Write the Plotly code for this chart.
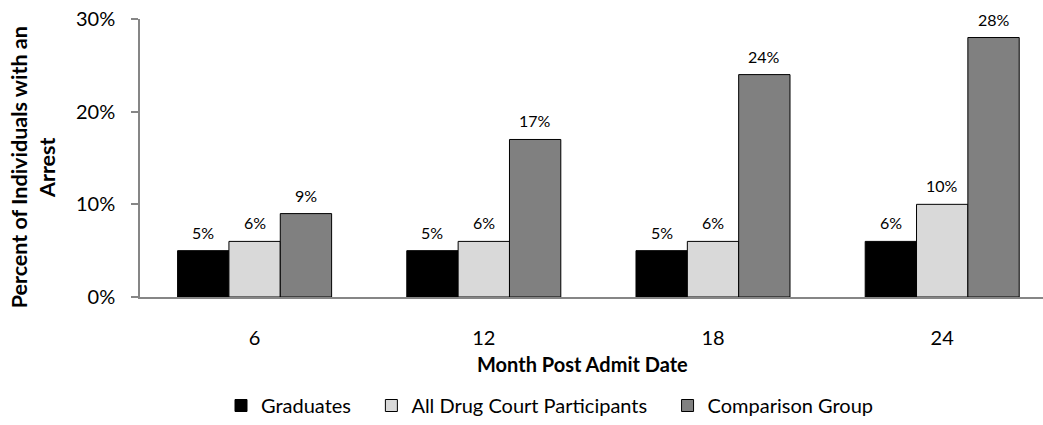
import plotly.graph_objects as go

months = ["6", "12", "18", "24"]
series_names = ["Graduates", "All Drug Court Participants", "Comparison Group"]
graduates = [0.05, 0.05, 0.05, 0.06]
all_participants = [0.06, 0.06, 0.06, 0.10]
comparison = [0.09, 0.17, 0.24, 0.28]
y_ticks = [0, 0.1, 0.2, 0.3]
y_tick_labels = ["0%", "10%", "20%", "30%"]

colors = ["#000000", "#d9d9d9", "#808080"]
FONT = "Lato"
BARGAP = 0.328

W, H = 1043, 425
ML, MR, MT, MB = 140, 0, 19, 425 - 302
plot_w = W - ML - MR
plot_h = H - MT - MB


def px_x(x):
    return (x - ML) / plot_w


def px_y(y):
    return 1 - (y - MT) / plot_h


series = [graduates, all_participants, comparison]
fig = go.Figure()
for name, vals, col in zip(series_names, series, colors):
    fig.add_trace(go.Bar(
        name=name + "\u00a0\u00a0\u00a0", x=months, y=vals,
        marker=dict(color=col, line=dict(color="#000000", width=1)),
        textposition="none",
    ))

# data labels above each bar, placed on the axes' own coordinates
n = len(series)
bw = (1 - BARGAP) / n
annotations = []
for j, vals in enumerate(series):
    for i, v in enumerate(vals):
        annotations.append(dict(
            x=i + (j - (n - 1) / 2) * bw, y=v, xref="x", yref="y",
            text=f"{round(v*100)}%", showarrow=False,
            xanchor="center", yanchor="bottom", yshift=7,
            font=dict(family=FONT, size=16, color="#000000")))

unit_px = 229.2
right_units = plot_w / unit_px - 0.5

annotations += [
    dict(text="<b>Percent of Individuals with an<br>Arrest</b>", textangle=-90,
         xref="paper", yref="paper",
         x=px_x(33), y=px_y(170),
         xanchor="center", yanchor="middle", showarrow=False,
         font=dict(family=FONT, size=21.5), align="center"),
    dict(text="<b>Month Post Admit Date</b>",
         xref="paper", yref="paper",
         x=px_x(582), y=px_y(370),
         xanchor="center", yanchor="middle", showarrow=False,
         font=dict(family=FONT, size=20)),
]

fig.update_layout(
    width=W, height=H,
    margin=dict(l=ML, r=MR, t=MT, b=MB),
    paper_bgcolor="white", plot_bgcolor="white",
    barmode="group", bargap=BARGAP, bargroupgap=0,
    font=dict(family=FONT, color="#000000"),
    showlegend=True,
    legend=dict(orientation="h", x=px_x(221), xref="paper", xanchor="left",
                y=px_y(413), yanchor="middle",
                font=dict(family=FONT, size=20), itemwidth=30,
                traceorder="normal"),
    xaxis=dict(type="category", range=[-0.5, right_units],
               showline=True, linecolor="#868686", linewidth=1.5,
               ticks="", tickfont=dict(family=FONT, size=20),
               ticklabelstandoff=22, showgrid=False, zeroline=False),
    yaxis=dict(range=[0, 0.3], tickvals=y_ticks, ticktext=y_tick_labels,
               showline=True, linecolor="#868686", linewidth=1.5,
               ticks="outside", ticklen=7, tickcolor="#868686", tickwidth=1.5,
               tickfont=dict(family=FONT, size=20), ticklabelstandoff=12,
               ticklabeloverflow="allow",
               showgrid=False, zeroline=False),
    annotations=annotations,
)

fig.write_html("out.html",
               config={"displayModeBar": False},
               post_script="document.body.style.margin='0px';"
                           "document.body.style.overflow='hidden';")
